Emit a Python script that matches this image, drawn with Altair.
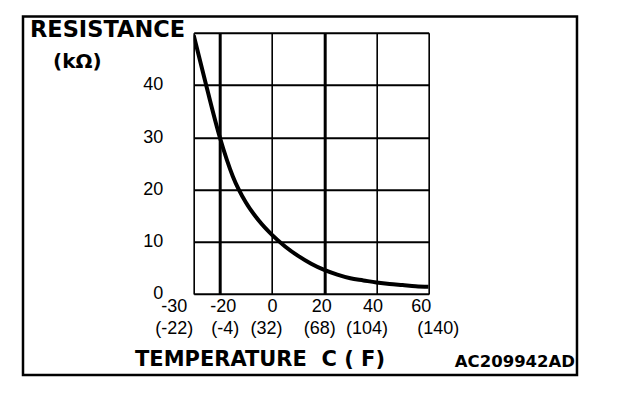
import altair as alt
import pandas as pd

# Curve (temperature in deg C, resistance in kOhm)
temps_c = [-30, -25, -20, -15, -10, -5, 0, 5, 10, 15, 20, 25, 30, 35, 40, 45, 50, 55, 60]
resistance_kohm = [49.5, 39.5, 30.0, 22.5, 17.5, 14.0, 11.3, 9.1, 7.3, 5.8, 4.6, 3.7,
                   3.0, 2.6, 2.2, 1.9, 1.7, 1.5, 1.4]

# Axis ticks and labels
x_ticks = [-30, -20, 0, 20, 40, 60]
fahrenheit_labels = ["(-22)", "(-4)", "(32)", "(68)", "(104)", "(140)"]
y_ticks = [0, 10, 20, 30, 40]
y_grid_top = 50

y_title_1 = "RESISTANCE"
y_title_2 = "(kΩ)"
x_title = "TEMPERATURE\u00a0\u00a0C ( F)"
code_label = "AC209942AD"

FONT = "DejaVu Sans"
TICK_FONT = "Liberation Sans"

df = pd.DataFrame({"t": temps_c, "r": resistance_kohm})
one = pd.DataFrame({"a": [0]})


def offsets(pairs):
    # per-label horizontal nudges (style only), as axis conditions
    return {"condition": [{"test": "datum.value === %d" % v, "value": dx} for v, dx in pairs],
            "value": 0}


x_scale = alt.Scale(domain=[-30, 60], nice=False, zero=False)

x_axis_c = alt.Axis(
    orient="bottom",
    values=x_ticks,
    labelExpr="'' + datum.value",
    labelFont=TICK_FONT,
    labelFontSize=18,
    labelColor="black",
    labelBaseline="alphabetic",
    labelPadding=17.7,
    labelOverlap=False,
    labelFlush=False,
    labelOffset=offsets([(-30, -20), (-20, 3), (20, -3), (40, -4), (60, -8)]),
    grid=True,
    gridColor="black",
    gridOpacity=1,
    gridWidth={"condition": {"test": "datum.value === -20 || datum.value === 20", "value": 3},
               "value": 1.6},
    domain=False,
    ticks=False,
    tickSize=0,
    title=None,
)

f_lookup = "{}[indexof({}, datum.value)]".format(
    str(fahrenheit_labels).replace("'", '"'), str(x_ticks))

x_axis_f = alt.Axis(
    orient="bottom",
    values=x_ticks,
    labelExpr=f_lookup,
    labelFont=TICK_FONT,
    labelFontSize=18,
    labelColor="black",
    labelBaseline="alphabetic",
    labelPadding=39.5,
    labelOverlap=False,
    labelFlush=False,
    labelOffset=offsets([(-30, -20), (-20, 5), (0, -6), (20, -5), (40, -10), (60, 9)]),
    grid=False,
    domain=False,
    ticks=False,
    tickSize=0,
    title=None,
)

y_axis = alt.Axis(
    values=y_ticks + [y_grid_top],
    labelExpr="datum.value < {} ? '' + datum.value : ''".format(y_grid_top),
    labelFont=TICK_FONT,
    labelFontSize=18,
    labelColor="black",
    labelPadding=31,
    grid=True,
    gridColor="black",
    gridOpacity=1,
    gridWidth=2,
    domain=False,
    ticks=False,
    tickSize=0,
    title=None,
)

curve = alt.Chart(df).mark_line(
    color="black", strokeWidth=4, interpolate="monotone", clip=True
).encode(
    x=alt.X("t:Q", scale=x_scale, axis=x_axis_c),
    y=alt.Y("r:Q", scale=alt.Scale(domain=[0, 50], nice=False, zero=False), axis=y_axis),
)

fahrenheit_axis_layer = alt.Chart(df).mark_point(opacity=0).encode(
    x=alt.X("t:Q", scale=x_scale, axis=x_axis_f),
    y=alt.value(0),
)

frame = alt.Chart(one).mark_rect(
    filled=False, stroke="black", strokeWidth=2.5
).encode(
    x=alt.value(-170.7), x2=alt.value(383.3), y=alt.value(-16.2), y2=alt.value(342.3)
)


def label(text, x, y, size, align="left"):
    return alt.Chart(one).mark_text(
        font=FONT, fontWeight="bold", fontSize=size, color="black",
        align=align, baseline="alphabetic"
    ).encode(x=alt.value(x), y=alt.value(y), text=alt.value(text))


texts = [
    label(y_title_1, -163.7, 4.0, 22.5),
    label(y_title_2, -140.7, 35.6, 20),
    label(x_title, -58.7, 333.3, 21),
    label(code_label, 381.3, 334.3, 16.5, align="right"),
]

chart = alt.layer(curve, fahrenheit_axis_layer, frame, *texts).resolve_axis(
    x="independent"
).properties(
    width=235,
    height=261.3,
    padding={"left": 185.7, "top": 24.7, "right": 152, "bottom": 86},
    autosize=alt.AutoSizeParams(type="none"),
).configure_view(
    stroke="black", strokeWidth=3
).configure(background="white")

chart.save("out.html", embed_options={"renderer": "svg", "actions": False})
